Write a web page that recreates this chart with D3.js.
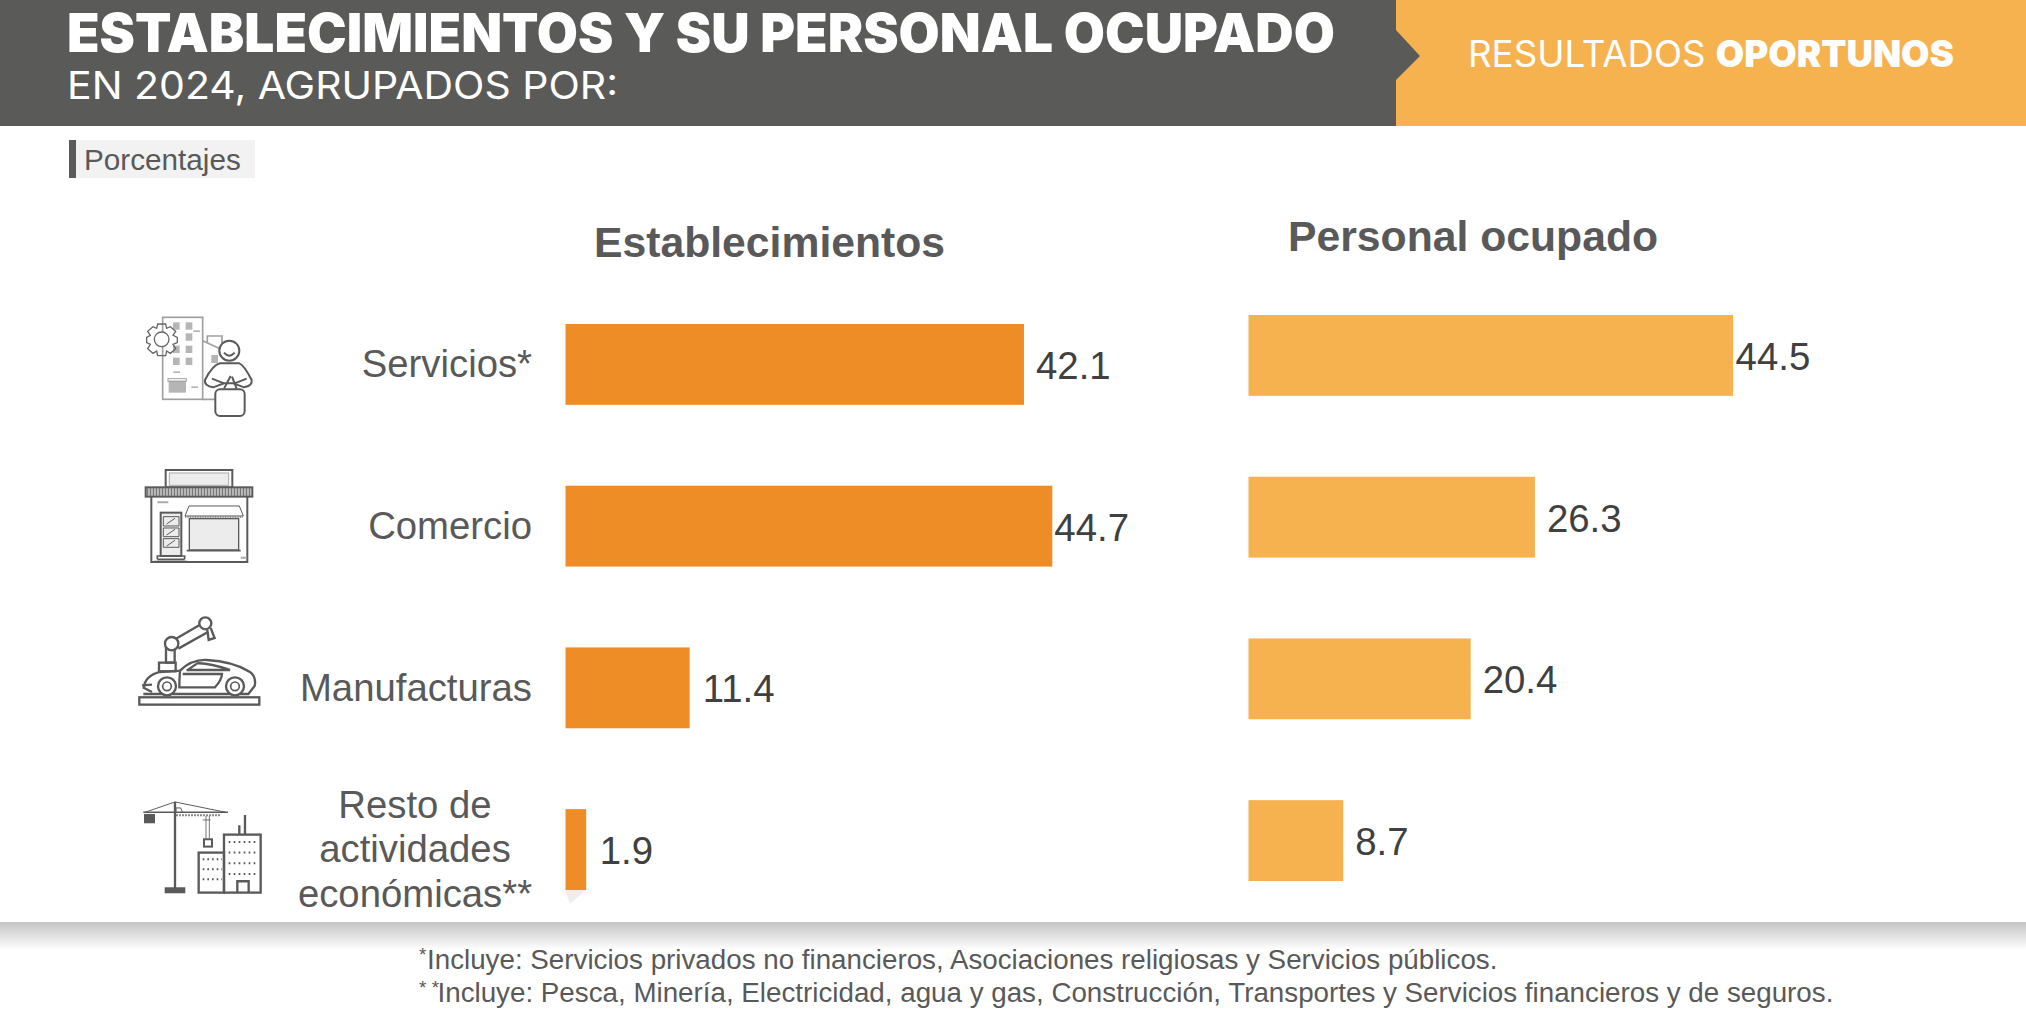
<!DOCTYPE html>
<html><head><meta charset="utf-8">
<style>html,body{margin:0;padding:0;background:#fff}svg{display:block}text{font-family:"Liberation Sans",Arial,sans-serif}</style>
<script src="https://cdn.jsdelivr.net/npm/d3@7/dist/d3.min.js"></script>
</head><body><svg id="c" width="2026" height="1028"></svg>
<script>
const categories = ["Servicios*", "Comercio", "Manufacturas", "Resto de|actividades|económicas**"];
const establecimientos = [42.1, 44.7, 11.4, 1.9];
const personalOcupado = [44.5, 26.3, 20.4, 8.7];
const footnotes = ["Incluye: Servicios privados no financieros, Asociaciones religiosas y Servicios públicos.",
  "Incluye: Pesca, Minería, Electricidad, agua y gas, Construcción, Transportes y Servicios financieros y de seguros."];

const svg = d3.select("#c");
const dark = "#5a5a58", orange = "#ee8c26", light = "#f7b250", txt = "#595959", val = "#404040";
const head = '"Inter","Noto Sans",sans-serif';
const defs = svg.append("defs");
const sg = defs.append("linearGradient").attr("id","sh").attr("x1",0).attr("x2",0).attr("y1",0).attr("y2",1);
sg.append("stop").attr("offset",0).attr("stop-color","#c4c4c4");
sg.append("stop").attr("offset",1).attr("stop-color","#fff");

// Header
svg.append("rect").attr("width",1396).attr("height",126).attr("fill",dark);
svg.append("rect").attr("x",1396).attr("width",630).attr("height",126).attr("fill",light);
svg.append("path").attr("d","M1396,30L1420,56L1396,80Z").attr("fill",dark);
svg.append("text").attr("x",67).attr("y",52).text("ESTABLECIMIENTOS Y SU PERSONAL OCUPADO")
  .style("font-family",head).attr("font-weight",900).attr("font-size",54).attr("fill","#fff")
  .attr("textLength",1268).attr("lengthAdjust","spacingAndGlyphs");
svg.append("text").attr("x",67).attr("y",99).text("EN 2024, AGRUPADOS POR:")
  .style("font-family",head).attr("font-weight",400).attr("font-size",38).attr("fill","#fff")
  .attr("textLength",551).attr("lengthAdjust","spacingAndGlyphs");
const ro = svg.append("text").attr("x",1468).attr("y",67).style("font-family",head).attr("font-size",37).attr("fill","#fff")
  .attr("textLength",486).attr("lengthAdjust","spacingAndGlyphs");
ro.append("tspan").attr("font-weight",400).text("RESULTADOS ");
ro.append("tspan").attr("font-weight",900).text("OPORTUNOS");

// Unit tag
svg.append("rect").attr("x",69).attr("y",140).attr("width",186).attr("height",38).attr("fill","#f2f2f2");
svg.append("rect").attr("x",69).attr("y",140).attr("width",7).attr("height",38).attr("fill",dark);
svg.append("text").attr("x",84).attr("y",170).attr("font-size",29.7).attr("fill",txt).text("Porcentajes");

// Panel headings
svg.append("text").attr("x",594).attr("y",257).attr("font-size",42.7).attr("font-weight",700).attr("fill",txt).text("Establecimientos");
svg.append("text").attr("x",1288).attr("y",251).attr("font-size",42.7).attr("font-weight",700).attr("fill",txt).text("Personal ocupado");

// Scales
const x = d3.scaleLinear().domain([0,50]).range([0,544.5]);
const yL = d3.scaleBand().domain(categories).range([324,890]).paddingInner(0.5).paddingOuter(0);
const yR = d3.scaleBand().domain(categories).range([315,881]).paddingInner(0.5).paddingOuter(0);

function panel(values, x0, y, color, gaps){
  const g = svg.append("g").attr("transform",`translate(${x0},0)`);
  g.selectAll("rect").data(values).join("rect")
    .attr("x",0).attr("y",(d,i)=>y(categories[i])).attr("width",d=>x(d)).attr("height",y.bandwidth()).attr("fill",color);
  g.selectAll("text").data(values).join("text")
    .attr("x",(d,i)=>x(d)+gaps[i]).attr("y",(d,i)=>y(categories[i])+55)
    .attr("font-size",38.4).attr("fill",val).text(d=>d.toFixed(1));
}
// faint slide shadow under the last bar
svg.append("path").attr("d","M565,890H586L570,904Z").attr("fill","#eeeeee");
panel(establecimientos,565.5,yL,orange,[12,2,13,13.5]);
panel(personalOcupado,1248.5,yR,light,[2.5,12,12,12]);

// Category labels
categories.forEach((c,i)=>{
  const lines=c.split("|"), cy=[364,526,688,850][i], lh=44.5;
  lines.forEach((l,k)=>{
    svg.append("text").attr("text-anchor",lines.length>1?"middle":"end").attr("x",lines.length>1?415:532)
      .attr("y",cy+13+(k-(lines.length-1)/2)*lh-(lines.length>1?1:0)).attr("font-size",38.3).attr("fill",txt).text(l);
  });
});

// Footer band
svg.append("rect").attr("x",0).attr("y",922).attr("width",2026).attr("height",28).attr("fill","url(#sh)");
const note = svg.append("g").attr("font-size",27.75).attr("fill",txt);
[[419,969,"*",footnotes[0],427],[419,1002,"* *",footnotes[1],437.5]].forEach(([xs,y,m,t,xt])=>{
  note.append("text").attr("x",xs).attr("y",y-8).attr("font-size",19).text(m);
  note.append("text").attr("x",xt).attr("y",y).text(t);
});

// Icons (drawn in a local 3x coordinate system)
const ic = svg.append("g").attr("transform","translate(120,300) scale(0.3333)").attr("fill","none").attr("stroke","#5a5a5a").attr("stroke-width",6);
ic.html(`
<g stroke="#a0a0a0" stroke-width="5">
 <rect x="128" y="52" width="120" height="246"/><path d="M248 122L300 146M262 130V108H306V130M248 298H290"/>
</g>
<g fill="#b5b5b5" stroke="none">
 <rect x="159" y="67" width="20" height="22"/><rect x="197" y="67" width="20" height="22"/><rect x="197" y="100" width="20" height="22"/>
 <rect x="159" y="137" width="20" height="22"/><rect x="197" y="137" width="20" height="22"/><rect x="159" y="173" width="20" height="22"/><rect x="197" y="173" width="20" height="22"/>
 <rect x="274" y="165" width="20" height="24"/><rect x="146" y="242" width="52" height="36"/>
 <rect x="220" y="91" width="20" height="5"/><rect x="160" y="214" width="20" height="5"/><rect x="214" y="259" width="20" height="5"/>
</g>
<rect x="144" y="236" width="55" height="8" stroke="#a0a0a0" stroke-width="3"/>
<circle cx="125" cy="118" r="22" fill="#fff" stroke="#666" stroke-width="4"/>
<path fill="none" stroke="#666" stroke-width="4" d="M113 72H137L140 85L151 80L167 94L159 106L172 112V128L159 133L167 146L151 160L140 153L137 167H113L110 153L99 160L83 146L91 133L80 128V112L91 106L83 94L99 80L110 85Z"/>
<circle cx="328" cy="152" r="30" fill="#fff"/><path d="M312 158Q328 176 344 158"/>
<path fill="#fff" d="M300 190H358Q372 195 395 240Q398 258 372 262L340 250L312 250L280 262Q252 258 255 240Q278 195 300 190Z"/>
<path d="M276 236L312 250M380 236L344 250M312 266L332 228M350 266L336 230"/>
<rect x="286" y="268" width="88" height="80" rx="14" fill="#fff"/>

<g>
 <rect x="137" y="510" width="200" height="52" fill="#fff"/><rect x="148" y="519" width="178" height="37" fill="#ececec" stroke="#aaa" stroke-width="3"/>
 <rect x="77" y="562" width="320" height="28" fill="#d8d8d8"/>
 <path d="M80 576H394" stroke-width="24" stroke="#777" stroke-dasharray="5 4"/>
 <path d="M94 590V786H382V590"/>
 <rect x="122" y="638" width="62" height="130" fill="#ececec"/>
 <path stroke-width="3" d="M130 650H177V678H130ZM130 684H177V710H130ZM130 716H177V742H130ZM140 672L165 655M140 705L165 688M140 738L165 721"/>
 <path stroke-width="5" d="M112 778H194M102 785H202M112 778V768H194V778"/>
 <path d="M195 648L207 618H358L370 648Z" stroke-width="3"/><path d="M195 651H370" stroke="#777" stroke-width="5" stroke-dasharray="3 2"/>
 <rect x="208" y="656" width="148" height="94" fill="#ececec" stroke-width="4"/><path stroke-width="5" d="M200 752H362"/>
 <path stroke="#aaa" d="M112 607H145M362 773H380"/>
</g>

<g transform="translate(0,900)" stroke-width="7">
 <rect x="58" y="292" width="360" height="22"/>
 <path d="M72 262Q75 228 120 216L180 212Q215 178 260 180Q340 184 390 216Q410 232 404 258L385 282H70"/>
 <path d="M180 212Q178 240 178 262H285Q305 240 306 222H188M200 212L232 190Q265 188 330 210H200"/>
 <path d="M66 256L96 254M68 262L96 276"/>
 <circle cx="141" cy="259" r="27" fill="#fff" stroke-width="7"/><circle cx="141" cy="259" r="13" stroke-width="5"/>
 <circle cx="345" cy="259" r="27" fill="#fff" stroke-width="7"/><circle cx="345" cy="259" r="13" stroke-width="5"/>
 <rect x="117" y="188" width="50" height="26"/><rect x="138" y="140" width="26" height="48"/>
 <circle cx="155" cy="131" r="20" fill="#fff"/><path d="M168 116L240 74M175 146L264 96"/>
 <circle cx="256" cy="70" r="18" fill="#fff"/><path d="M262 90L266 120L284 114L272 84"/>
</g>

<g transform="translate(0,900)">
 <path d="M72 638L165 606L322 638" stroke-width="3"/>
 <path d="M70 637H324" stroke-width="5"/><path d="M168 646H300" stroke="#888" stroke-width="6" stroke-dasharray="6 3"/>
 <path d="M165 606V868" stroke-width="7"/><rect x="134" y="862" width="62" height="18" fill="#5a5a5a" stroke="none"/>
 <rect x="72" y="642" width="33" height="28" fill="#5a5a5a" stroke="none"/>
 <path d="M168 638V624H182L188 638" stroke-width="3"/>
 <path d="M258 648V716M268 648V716M248 660H272" stroke-width="2.5"/><rect x="252" y="718" width="24" height="22" stroke-width="6"/>
 <rect x="236" y="758" width="76" height="120" stroke-width="7"/><rect x="312" y="704" width="110" height="174" stroke-width="7"/>
 <path d="M375 645V704M358 676V704M352 878V844H386V878" stroke-width="7"/>
 <path d="M248 778H306M248 808H306M248 838H306" stroke-width="6" stroke-dasharray="5 9"/>
 <path d="M326 726H416M326 758H416M326 790H416M326 822H416" stroke-width="6" stroke-dasharray="5 10"/>
</g>`);
</script></body></html>
